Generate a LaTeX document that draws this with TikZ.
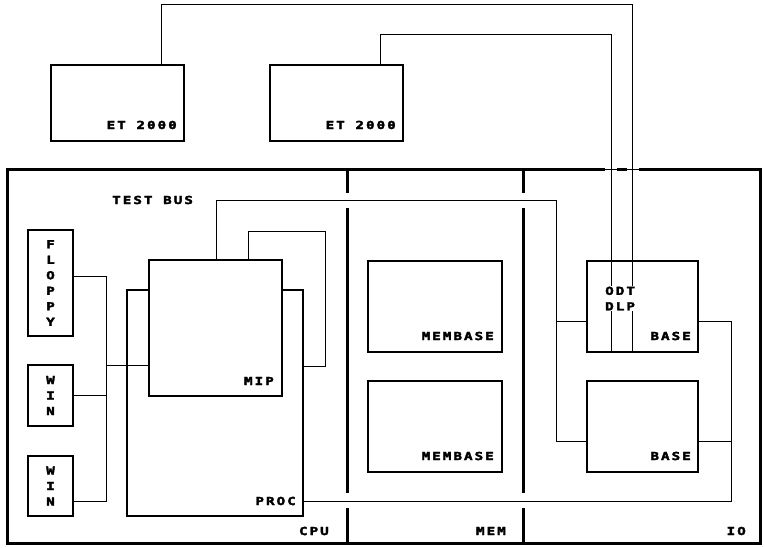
\documentclass[tikz,border=0pt]{standalone}
\usepackage{fontspec}
\newfontfamily\pf[LetterSpace=18,FakeStretch=1.3,FakeBold=3]{DejaVu Sans Mono}
\tikzset{
 frame/.style={line width=3pt},
 box/.style={draw, line width=2pt, inner sep=0pt, outer sep=0pt, anchor=north west},
 wire/.style={line width=1pt},
 lbl/.style={font=\pf\bfseries\fontsize{11}{15.5}\selectfont, inner sep=0pt},
 vlbl/.style={font=\pf\bfseries\fontsize{11}{15.5}\selectfont, inner sep=0pt, align=center},
}
\begin{document}
\begin{tikzpicture}[x=1pt,y=-1pt]
\useasboundingbox (0,0) rectangle (765,548);
% system frame and dividers
\node[draw, frame, inner sep=0pt, outer sep=0pt, anchor=north west, minimum width=753pt, minimum height=373pt] (sys) at (7,170) {};
\coordinate (d1) at (347,170);
\coordinate (d2) at (523,170);
\draw[frame] (d1) -- (d1 |- sys.south);
\draw[frame] (d2) -- (d2 |- sys.south);
% gaps where wires cross thick lines
\fill[white] (343,193) rectangle (351,208);
\fill[white] (519,193) rectangle (527,208);
\fill[white] (343,493) rectangle (351,508);
\fill[white] (519,493) rectangle (527,508);
\fill[white] (605,166) rectangle (617,174);
\fill[white] (627,166) rectangle (639,174);
\coordinate (g1) at (604,170);
\coordinate (g2) at (640,170);
\draw[wire] (g1) -- (g2);
% boxes
\node[box, minimum width=133pt, minimum height=76pt] (et1) at (51,65) {};
\node[box, minimum width=133pt, minimum height=76pt] (et2) at (270,65) {};
\node[box, minimum width=45pt, minimum height=106pt] (floppy) at (28,230) {};
\node[box, minimum width=45pt, minimum height=61pt] (win1) at (28,365) {};
\node[box, minimum width=45pt, minimum height=60pt] (win2) at (28,456) {};
\node[box, minimum width=176pt, minimum height=226pt] (proc) at (127,290) {};
\node[box, fill=white, minimum width=133pt, minimum height=136pt] (mip) at (149,260) {};
\node[box, minimum width=134pt, minimum height=91pt] (mb1) at (368,261) {};
\node[box, minimum width=134pt, minimum height=91pt] (mb2) at (368,381) {};
\node[box, minimum width=111pt, minimum height=91pt] (base1) at (587,261) {};
\node[box, minimum width=111pt, minimum height=91pt] (base2) at (587,381) {};
% wires from terminals
\coordinate (c1) at (632,5);
\coordinate (c2) at (611,35);
\draw[wire] ([xshift=110pt]et1.north west) |- (c1) -- (c1 |- base1.south);
\draw[wire] ([xshift=110pt]et2.north west) |- (c2) -- (c2 |- base1.south);
% test bus
\coordinate (tb) at (556,200);
\draw[wire] ([xshift=67pt]mip.north west) |- (tb) |- ([yshift=-15pt]base2.west);
\draw[wire] ([yshift=-15pt]base1.west) -| (tb);
% right bus
\coordinate (rb) at (731,501);
\draw[wire] ([yshift=-15pt]base1.east) -| (rb) -- (proc.east |- rb);
\draw[wire] ([yshift=-15pt]base2.east) -- ([yshift=-15pt]base2.east -| rb);
% MIP loop
\coordinate (ml) at (325,231);
\coordinate (mr) at (325,366);
\draw[wire] ([xshift=99pt]mip.north west) |- (ml) -- (mr) -- (proc.east |- mr);
% left bus
\coordinate (lb1) at (106,276);
\coordinate (lb2) at (106,501);
\coordinate (lb3) at (106,365);
\draw[wire] (floppy.east |- lb1) -- (lb1) -- (lb2) -- (win2.east |- lb2);
\draw[wire] (win1.east) -- (win1.east -| lb1);
\draw[wire] (lb3) -- (mip.west |- lb3);
% labels
\node[lbl, anchor=east] (l1) at (177,125) {ET 2000};
\node[lbl, anchor=east] (l2) at (396,125) {ET 2000};
\node[lbl, anchor=west] (l3) at (112,200) {TEST BUS};
\node[lbl, anchor=east] (l4) at (274,381) {MIP};
\node[lbl, anchor=east] (l5) at (296,501) {PROC};
\node[lbl, anchor=east] (l6) at (329,531) {CPU};
\node[lbl, anchor=east] (l7) at (494,336) {MEMBASE};
\node[lbl, anchor=east] (l8) at (494,456) {MEMBASE};
\node[lbl, anchor=east] (l9) at (691,336) {BASE};
\node[lbl, anchor=east] (l10) at (691,456) {BASE};
\node[lbl, anchor=east] (l11) at (506,531) {MEM};
\node[lbl, anchor=east] (l12) at (746,531) {IO};
\node[lbl, anchor=west, fill=white, align=left, inner sep=1pt] (l13) at (604,298.5) {ODT\\DLP};
\node[vlbl] (l14) at (floppy.center) {F\\L\\O\\P\\P\\Y};
\node[vlbl] (l15) at (win1.center) {W\\I\\N};
\node[vlbl] (l16) at (win2.center) {W\\I\\N};
\end{tikzpicture}
\end{document}
